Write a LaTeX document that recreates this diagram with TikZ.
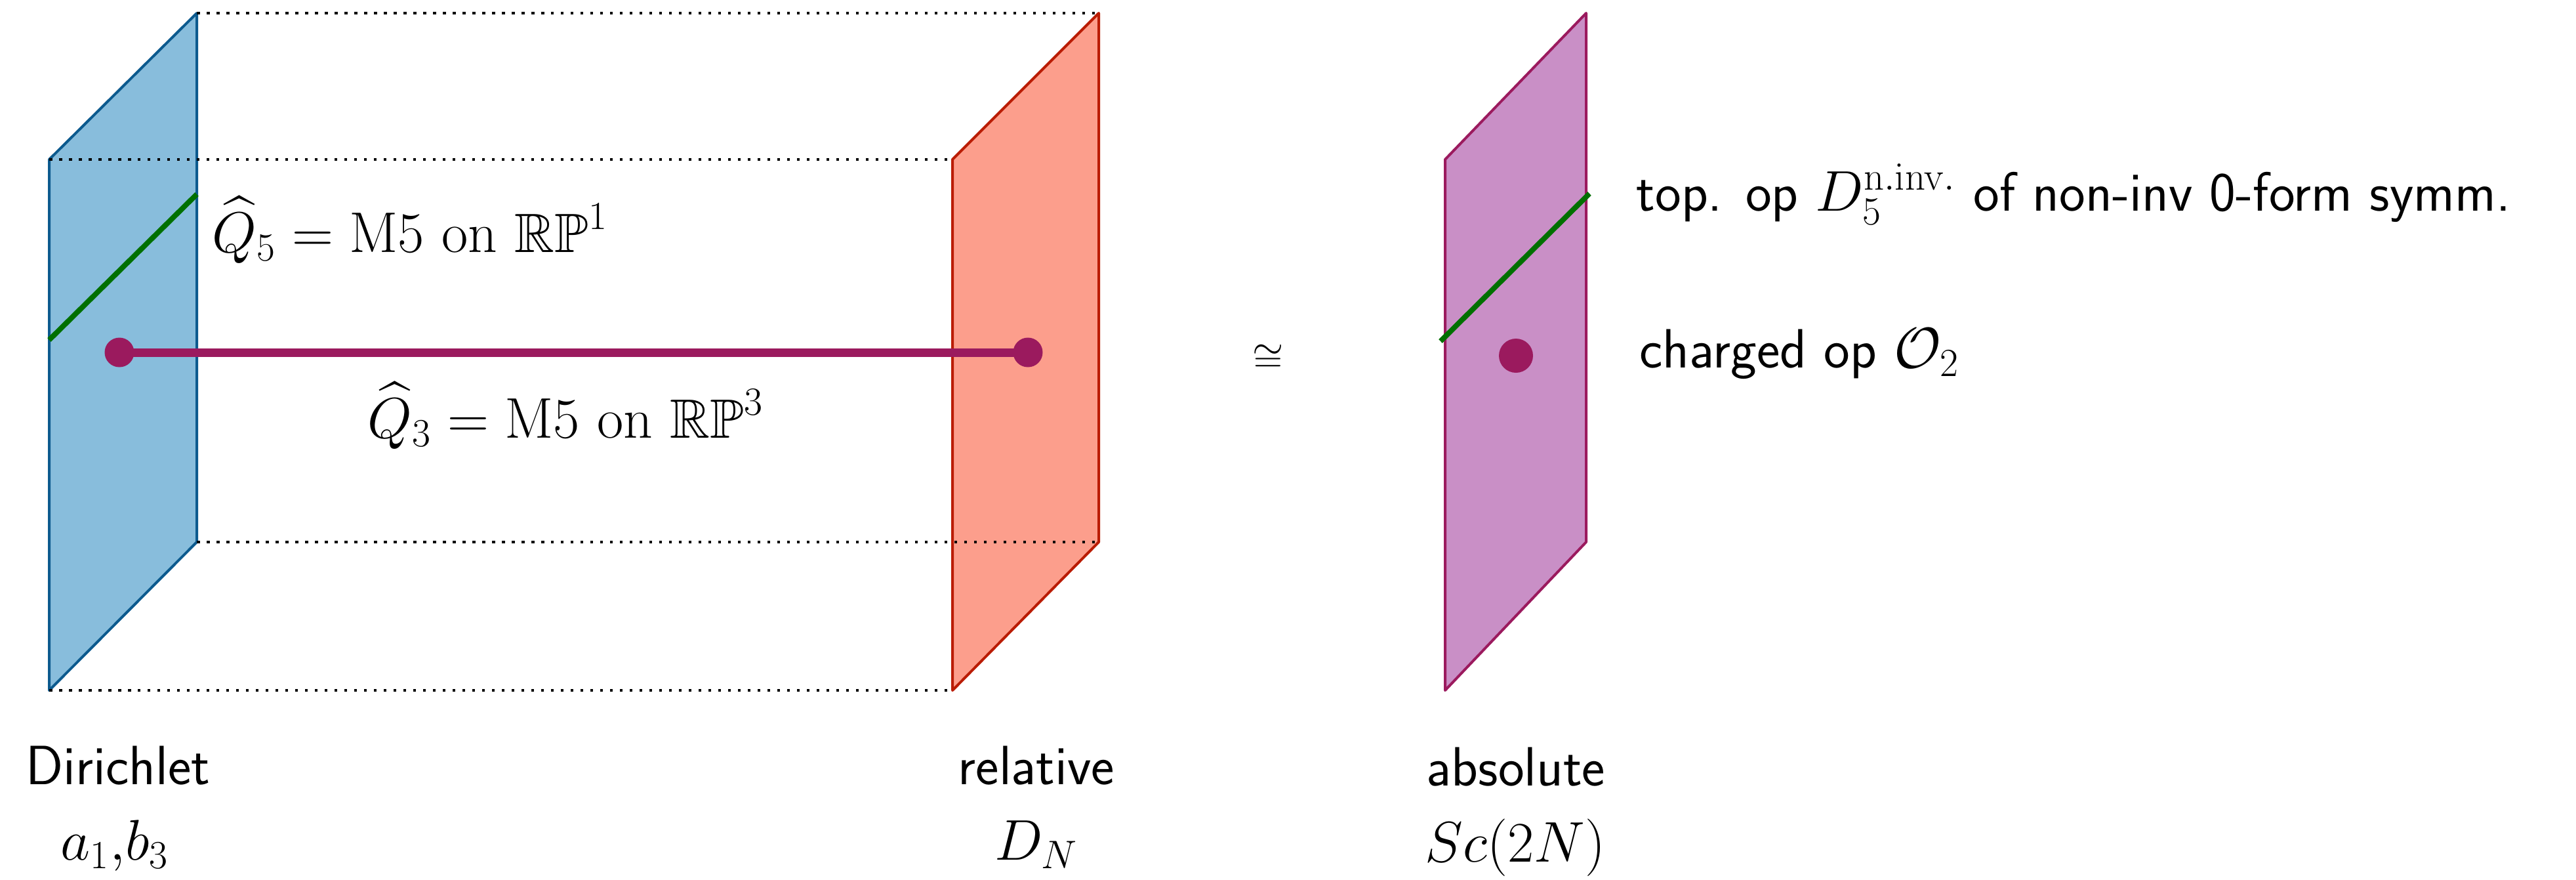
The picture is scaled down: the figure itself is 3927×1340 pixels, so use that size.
\documentclass[tikz,border=0pt]{standalone}
\usepackage{amssymb}
\definecolor{bluefill}{RGB}{136,189,220}
\definecolor{blueedge}{RGB}{12,90,142}
\definecolor{redfill}{RGB}{252,158,140}
\definecolor{rededge}{RGB}{186,28,4}
\definecolor{purfill}{RGB}{201,143,198}
\definecolor{puredge}{RGB}{155,26,94}
\definecolor{grn}{RGB}{0,112,0}
\tikzset{
  plane/.style={line width=0.4mm, line join=round},
  dotline/.style={line width=0.45mm, dash pattern=on 0.45mm off 1.05mm},
  greenline/.style={grn, line width=0.8mm},
  pline/.style={puredge, line width=1.3mm},
  pdot/.style={circle, fill=puredge, inner sep=0pt, minimum size=4.5mm},
  lbl/.style={inner sep=0pt, font=\sffamily\fontsize{24}{29}\selectfont},
}
\begin{document}
\begin{tikzpicture}[x=0.1mm, y=-0.1mm]
\useasboundingbox (0,0) rectangle (3927,1340);
% corners
\coordinate (bft) at (75,243);   \coordinate (bfb) at (75,1052);
\coordinate (bbt) at (300,20);   \coordinate (bbb) at (300,826);
\coordinate (rft) at (1452,243); \coordinate (rfb) at (1452,1052);
\coordinate (rbt) at (1675,20);  \coordinate (rbb) at (1675,826);
\coordinate (pft) at (2203,243); \coordinate (pfb) at (2203,1052);
\coordinate (pbt) at (2418,20);  \coordinate (pbb) at (2418,826);
% planes
\filldraw[plane, fill=bluefill, draw=blueedge] (bft) -- (bbt) -- (bbb) -- (bfb) -- cycle;
\filldraw[plane, fill=redfill, draw=rededge] (rft) -- (rbt) -- (rbb) -- (rfb) -- cycle;
\filldraw[plane, fill=purfill, draw=puredge] (pft) -- (pbt) -- (pbb) -- (pfb) -- cycle;
% dotted box edges
\draw[dotline] (bbt) -- (rbt);
\draw[dotline] (bft) -- (rft);
\draw[dotline] (bbb) -- (rbb);
\draw[dotline] (bfb) -- (rfb);
% green lines
\coordinate (g1a) at (75,518);   \coordinate (g1b) at (300,296);
\coordinate (g2a) at (2196,520); \coordinate (g2b) at (2423,295);
\draw[greenline] (g1a) -- (g1b);
\draw[greenline] (g2a) -- (g2b);
% purple line and dots
\node[pdot] (d1) at (182,537) {};
\node[pdot] (d2) at (1567,537) {};
\draw[pline] (d1.center) -- (d2.center);
\node[pdot, minimum size=5.2mm] (d3) at (2311,542) {};
% labels
\node[lbl, anchor=base west] (q5) at (323,384) {$\widehat{Q}_5=\mathrm{M5\ on\ }\mathbb{RP}^1$};
\node[lbl, anchor=base west] (q3) at (560,667) {$\widehat{Q}_3=\mathrm{M5\ on\ }\mathbb{RP}^3$};
\node[lbl, font=\fontsize{17}{20}\selectfont] (iso) at (1933,546) {$\cong$};
\node[lbl, anchor=base west] (top) at (2494,321) {top. op $D_5^{\mathrm{n.inv.}}$ of non-inv 0-form symm.};
\node[lbl, anchor=base west] (chg) at (2499,560) {charged op $\mathcal{O}_2$};
\node[lbl, anchor=base] (dir) at (180,1195) {Dirichlet};
\node[lbl, anchor=base] (ab) at (175,1310) {$a_1{,}b_3$};
\node[lbl, anchor=base] (rel) at (1580,1195) {relative};
\node[lbl, anchor=base] (dn) at (1580,1310) {$D_N$};
\node[lbl, anchor=base] (abs) at (2311,1197) {absolute};
\node[lbl, anchor=base] (sc) at (2310,1313) {$Sc(2N)$};
\end{tikzpicture}
\end{document}
